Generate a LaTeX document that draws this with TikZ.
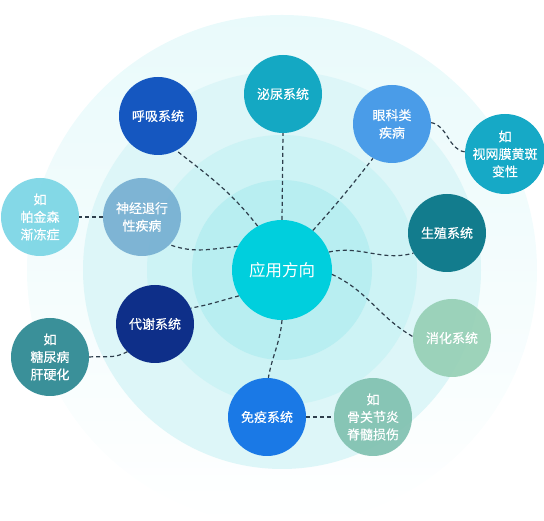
\documentclass[tikz,border=0pt]{standalone}
\usepackage{fontspec}
\newfontfamily\cjk{Noto Sans CJK SC}
\newfontfamily\cjkb[FakeBold=0.35]{Noto Sans CJK SC}
\definecolor{ringA}{HTML}{E9FAFB}
\definecolor{ringB}{HTML}{DDF6F8}
\definecolor{ringC}{HTML}{CDF3F5}
\definecolor{ringD}{HTML}{B8EEF1}
\definecolor{linkc}{HTML}{2E3E4C}
\definecolor{cCenter}{HTML}{00CFDD}
\definecolor{cMiniao}{HTML}{14A8C3}
\definecolor{cHuxi}{HTML}{1557C0}
\definecolor{cYanke}{HTML}{4A9CE8}
\definecolor{cShiwang}{HTML}{16A9C6}
\definecolor{cShenjing}{HTML}{76AFD2}
\definecolor{cPajin}{HTML}{7AD5E5}
\definecolor{cShengzhi}{HTML}{127C8D}
\definecolor{cDaixie}{HTML}{0E2F89}
\definecolor{cTangniao}{HTML}{3A9099}
\definecolor{cXiaohua}{HTML}{96D0B5}
\definecolor{cMianyi}{HTML}{1A79E6}
\definecolor{cGuguan}{HTML}{80C1B0}
\begin{document}
\begin{tikzpicture}[x=1pt,y=1pt,
  bub/.style={circle, minimum size=78pt, inner sep=0pt, text=white,
    font=\cjkb\fontsize{13}{17.5}\selectfont, align=center},
  seethru/.style={fill opacity=0.92, text opacity=1},
  link/.style={draw=linkc, line width=1.2pt, dash pattern=on 4pt off 3pt}]
\useasboundingbox (0,0) rectangle (544,521);
% background rings
\shade[top color=ringA, bottom color=white] (282,251) circle (255);
\fill[ringB] (282,251) circle (199);
\fill[ringC] (282,251) circle (135);
\fill[ringD] (282,251) circle (90);
% nodes
\node[circle, minimum size=100pt, inner sep=0pt, fill=cCenter, text=white,
  font=\cjk\fontsize{16.5}{20}\selectfont] (c) at (282,251) {应用方向};
\node[bub, fill=cMiniao]   (miniao)   at (283,427) {泌尿系统};
\node[bub, fill=cHuxi]     (huxi)     at (158,405) {呼吸系统};
\node[bub, fill=cYanke]    (yanke)    at (392,397) {眼科类\\疾病};
\node[bub, fill=cShiwang]  (shiwang)  at (505,367) {如\\视网膜黄斑\\变性};
\node[bub, seethru, fill=cShenjing] (shenjing) at (142,304) {神经退行\\性疾病};
\node[bub, seethru, fill=cPajin]    (pajin)    at (40,304)  {如\\帕金森\\渐冻症};
\node[bub, fill=cShengzhi] (shengzhi) at (447,288) {生殖系统};
\node[bub, fill=cDaixie]   (daixie)   at (155,197) {代谢系统};
\node[bub, fill=cTangniao] (tangniao) at (50,164)  {如\\糖尿病\\肝硬化};
\node[bub, seethru, fill=cXiaohua]  (xiaohua)  at (452,183) {消化系统};
\node[bub, fill=cMianyi]   (mianyi)   at (267,104) {免疫系统};
\node[bub, seethru, fill=cGuguan]   (guguan)   at (373,104) {如\\骨关节炎\\脊髓损伤};
% connectors
\draw[link] (c.90) -- (miniao.270);
\draw[link] (c.119) to[out=128,in=-38] (huxi.-62);
\draw[link] (c.52) to[out=48,in=-128] (yanke.-119);
\draw[link] (yanke.2) to[out=-10,in=172] (shiwang.177);
\draw[link] (c.21) to[out=12,in=195] (shengzhi.-149);
\draw[link] (c.-5) to[out=-25,in=150] (xiaohua.178);
\draw[link] (c.152) to[out=185,in=-20] (shenjing.-45);
\draw[link] (shenjing.west) -- (pajin.east);
\draw[link] (c.-149) to[out=195,in=10] (daixie.24);
\draw[link] (daixie.-135) to[out=210,in=5] (tangniao.0);
\draw[link] (c.-90) to[out=-95,in=80] (mianyi.88);
\draw[link] (mianyi.east) -- (guguan.west);
\end{tikzpicture}
\end{document}
